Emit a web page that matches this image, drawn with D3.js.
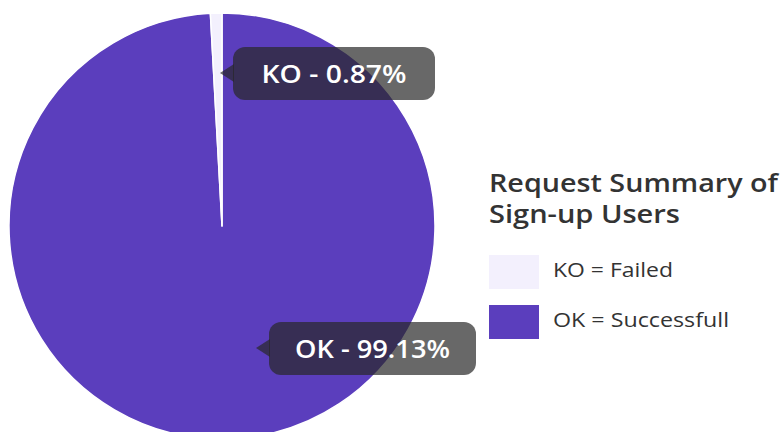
<!DOCTYPE html>
<html>
<head>
<meta charset="utf-8">
<script src="https://cdn.jsdelivr.net/npm/d3@7"></script>
<style>
  body { margin: 0; background: #fff; }
  text { font-family: "Open Sans", "Noto Sans", sans-serif; }
</style>
</head>
<body>
<div id="chart"></div>
<script>
// data
var categories = ['OK', 'KO'];
var values = [99.13, 0.87];
var legendLabels = ['KO = Failed', 'OK = Successfull'];
var legendKeys = ['KO', 'OK'];
var titleLines = ['Request Summary of', 'Sign-up Users'];
var colors = {OK: '#5b3ebd', KO: '#f3f0fd'};

var width = 784, height = 432;
var cx = 222, cy = 226, radius = 213;

var svg = d3.select('#chart')
.append('svg')
.attr('width', width)
.attr('height', height);

var data = categories.map(function(c, i){ return {cat: c, val: values[i]}; });

var pie = d3.pie().sort(null).value(function(d){ return d.val; });
var arc = d3.arc().innerRadius(0).outerRadius(radius);

var g = svg.append('g').attr('transform', 'translate(' + cx + ',' + cy + ')');

g.selectAll('path')
.data(pie(data))
.enter()
.append('path')
.attr('d', arc)
.attr('fill', function(d){ return colors[d.data.cat]; })
.attr('stroke', '#fff')
.attr('stroke-width', 1.5)
.attr('stroke-linejoin', 'round');

// tooltips (montserrat-ish widths faked with textLength)
var tips = [
  {cat: 'KO', x: 220, y: 73, w: 202, tl: 145},
  {cat: 'OK', x: 256, y: 348, w: 207, tl: 155}
];

tips.forEach(function(t){
  var i = categories.indexOf(t.cat);
  var tg = svg.append('g').attr('transform', 'translate(' + t.x + ',' + t.y + ')');
  tg.append('path')
  .attr('d', 'M0,0 L14,-9 L14,9 Z')
  .attr('fill', 'rgba(40,40,40,0.7)');
  tg.append('rect')
  .attr('x', 13).attr('y', -26)
  .attr('width', t.w).attr('height', 53)
  .attr('rx', 12)
  .attr('fill', 'rgba(40,40,40,0.7)');
  tg.append('text')
  .text(t.cat + ' - ' + values[i] + '%')
  .attr('x', 13 + t.w / 2)
  .attr('y', 10)
  .attr('text-anchor', 'middle')
  .attr('fill', '#fff')
  .attr('font-size', '25px')
  .attr('font-weight', 600)
  .attr('textLength', t.tl)
  .attr('lengthAdjust', 'spacingAndGlyphs');
});

// legend
var lg = svg.append('g').attr('transform', 'translate(489,0)');
var titleW = [289, 191];
lg.selectAll('text.title')
.data(titleLines)
.enter()
.append('text')
.attr('class', 'title')
.text(function(d){ return d; })
.attr('x', 0)
.attr('y', function(d, i){ return 192 + i * 31; })
.attr('fill', '#333')
.attr('font-size', '25px')
.attr('font-weight', 600)
.attr('textLength', function(d, i){ return titleW[i]; })
.attr('lengthAdjust', 'spacingAndGlyphs');

var labelW = [120, 176];
var items = lg.selectAll('g.item')
.data(legendKeys)
.enter()
.append('g')
.attr('class', 'item')
.attr('transform', function(d, i){ return 'translate(0,' + (255 + i * 50) + ')'; });

items.append('rect')
.attr('width', 50).attr('height', 34)
.attr('fill', function(d){ return colors[d]; });

items.append('text')
.text(function(d, i){ return legendLabels[i]; })
.attr('x', 64).attr('y', 22)
.attr('fill', '#333')
.attr('font-size', '20px')
.attr('textLength', function(d, i){ return labelW[i]; })
.attr('lengthAdjust', 'spacingAndGlyphs');
</script>
</body>
</html>
